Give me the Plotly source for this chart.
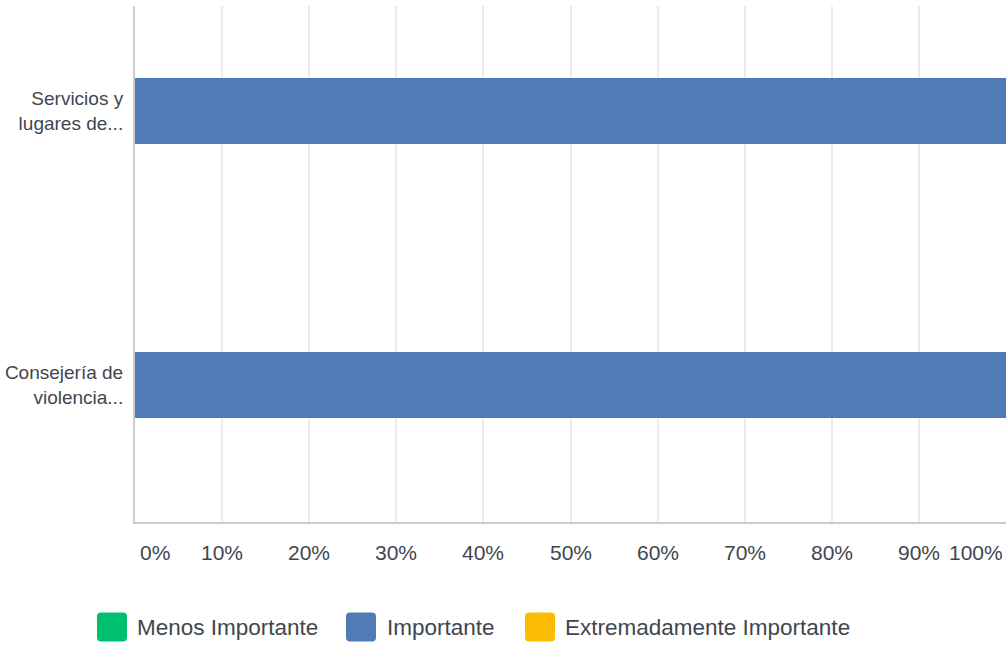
import plotly.graph_objects as go

categories = ["Servicios y<br>lugares de...", "Consejería de<br>violencia..."]
series_names = ["Menos Importante", "Importante", "Extremadamente Importante"]
menos = [0, 0]
importante = [100, 100]
extrema = [0, 0]
series_values = [menos, importante, extrema]
series_colors = ["#00bf6f", "#4f7cb4", "#fbbc04"]
tick_values = [0, 10, 20, 30, 40, 50, 60, 70, 80, 90, 100]
tick_labels = ["0%", "10%", "20%", "30%", "40%", "50%", "60%", "70%", "80%", "90%", "100%"]

W, H = 1008, 669
L, R, T, B = 135, 2, 6, 669 - 522
PW, PH = W - L - R, H - T - B
FONT = "Liberation Sans, Arial, sans-serif"
TXT = "#3f4650"

fig = go.Figure()
for name, vals, col in zip(series_names, series_values, series_colors):
    fig.add_trace(go.Bar(
        y=categories, x=vals, name=name, orientation="h",
        marker=dict(color=col, line=dict(width=0)),
        width=0.24, showlegend=False,
    ))

def px_x(p):
    return (p - L) / PW

def px_y(p):
    return (T + PH - p) / PH

annotations = []
for v, lab in zip(tick_values, tick_labels):
    if v == tick_values[0]:
        anchor, shift = "left", 3
    elif v == tick_values[-1]:
        anchor, shift = "right", -1
    else:
        anchor, shift = "center", 0
    annotations.append(dict(
        x=v, xref="x", y=px_y(552), yref="paper", text=lab, showarrow=False,
        xanchor=anchor, yanchor="middle", xshift=shift,
        font=dict(family=FONT, size=21, color=TXT),
    ))

def rrect(w, h, r):
    x0, x1, y0, y1 = -w / 2, w / 2, -h / 2, h / 2
    return (f"M {x0+r},{y0} L {x1-r},{y0} Q {x1},{y0} {x1},{y0+r} "
            f"L {x1},{y1-r} Q {x1},{y1} {x1-r},{y1} L {x0+r},{y1} "
            f"Q {x0},{y1} {x0},{y1-r} L {x0},{y0+r} Q {x0},{y0} {x0+r},{y0} Z")

shapes = []
legend_sq_x = [112, 361, 540]
legend_txt_x = [135, 385, 563]
ly = 627
for name, col, sx, tx in zip(series_names, series_colors, legend_sq_x, legend_txt_x):
    shapes.append(dict(
        type="path", xref="paper", yref="paper",
        xsizemode="pixel", ysizemode="pixel",
        xanchor=px_x(sx), yanchor=px_y(ly),
        path=rrect(30, 29, 4), fillcolor=col, line=dict(width=0),
    ))
    annotations.append(dict(
        x=px_x(tx), xref="paper", y=px_y(ly), yref="paper", text=name,
        showarrow=False, xanchor="left", yanchor="middle",
        font=dict(family=FONT, size=22.5, color=TXT),
    ))

fig.update_layout(
    width=W, height=H,
    margin=dict(l=L, r=R, t=T, b=B, pad=0, autoexpand=False),
    paper_bgcolor="white", plot_bgcolor="white",
    barmode="stack",
    font=dict(family=FONT, size=19, color=TXT),
    xaxis=dict(
        range=[0, 100], tickvals=tick_values, showticklabels=False,
        showgrid=True, gridcolor="#ebebeb", gridwidth=1.5,
        showline=True, linecolor="#cccccc", linewidth=2,
        zeroline=False, fixedrange=True, automargin=False,
    ),
    yaxis=dict(
        type="category", categoryorder="array", categoryarray=categories[::-1],
        range=[-0.5, 1.383], showgrid=False,
        showline=True, linecolor="#cccccc", linewidth=2,
        ticks="", ticklabelstandoff=6, zeroline=False, automargin=False,
        fixedrange=True, tickfont=dict(family=FONT, size=19, color=TXT),
    ),
    annotations=annotations, shapes=shapes,
)

fig.write_html(
    "out.html",
    config={"displayModeBar": False},
    post_script="document.body.style.margin='0';document.body.style.overflow='hidden';",
)
